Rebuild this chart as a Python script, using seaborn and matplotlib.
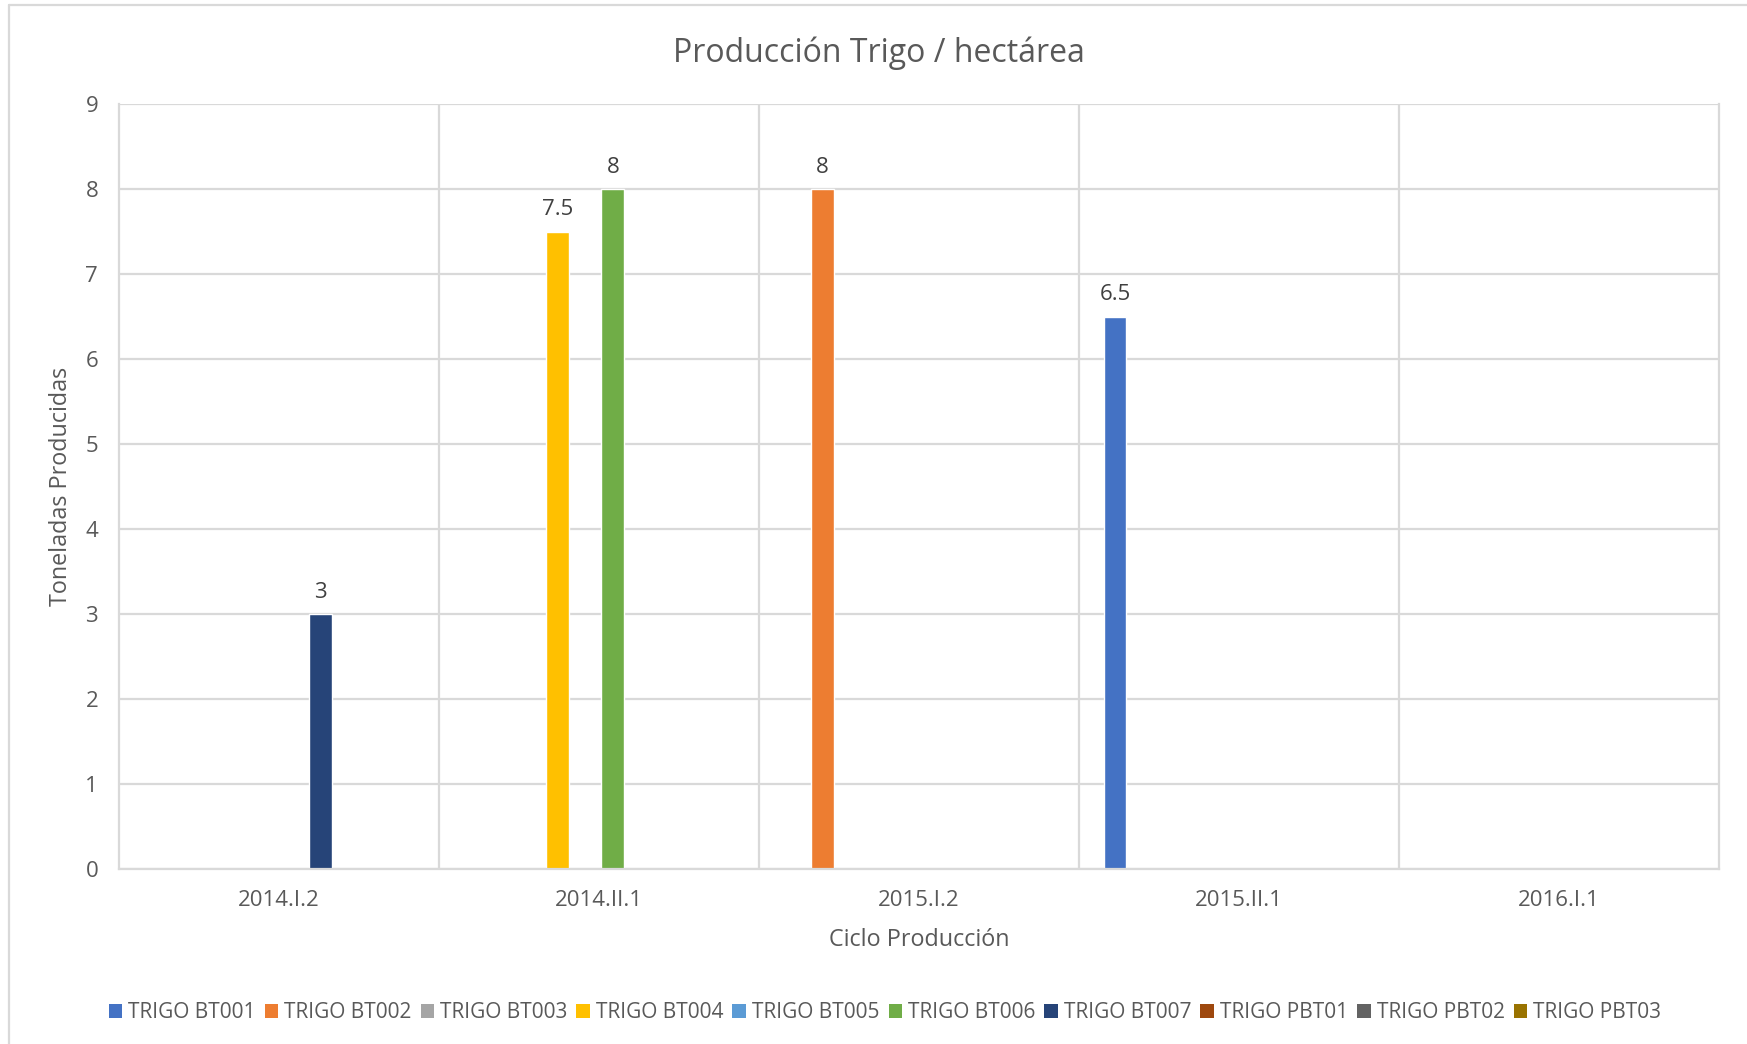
import numpy as np
import pandas as pd
import matplotlib
matplotlib.use("Agg")
import matplotlib.pyplot as plt
from matplotlib.lines import Line2D
from matplotlib.patches import Patch
import seaborn as sns

# Production cycles on the x axis
ciclos = ["2014.I.2", "2014.II.1", "2015.I.2", "2015.II.1", "2016.I.1"]

# Wheat varieties (series) and their colours
variedades = ["TRIGO BT001", "TRIGO BT002", "TRIGO BT003", "TRIGO BT004", "TRIGO BT005",
              "TRIGO BT006", "TRIGO BT007", "TRIGO PBT01", "TRIGO PBT02", "TRIGO PBT03"]
colores = ["#4472C4", "#ED7D31", "#A5A5A5", "#FFC000", "#5B9BD5",
           "#70AD47", "#264478", "#9E480E", "#636363", "#997300"]

# Recorded yields (tonnes per hectare)
reg_ciclo = ["2014.I.2", "2014.II.1", "2014.II.1", "2015.I.2", "2015.II.1"]
reg_variedad = ["TRIGO BT007", "TRIGO BT004", "TRIGO BT006", "TRIGO BT002", "TRIGO BT001"]
reg_toneladas = [3, 7.5, 8, 8, 6.5]

df = pd.DataFrame({"Ciclo": reg_ciclo, "Variedad": reg_variedad, "Toneladas": reg_toneladas})

sns.set_theme(style="white")
plt.rcParams["font.family"] = ["Open Sans", "DejaVu Sans"]

TXT = "#595959"
GRID = "#D9D9D9"
W, H = 1747, 1044
L, R, T, B = 119, 1719, 104, 869

fig = plt.figure(figsize=(W / 100, H / 100), dpi=100)
ax = fig.add_axes([L / W, 1 - B / H, (R - L) / W, (B - T) / H])

sns.barplot(data=df, x="Ciclo", y="Toneladas", hue="Variedad",
            order=ciclos, hue_order=variedades, palette=colores,
            width=0.86, gap=0.18, saturation=1, errorbar=None,
            legend=False, ax=ax)

# value labels above each drawn bar
for cont in ax.containers:
    labels = []
    for bar in cont:
        h = bar.get_height()
        labels.append(f"{h:g}" if np.isfinite(h) and h > 0 else "")
    ax.bar_label(cont, labels=labels, padding=8, fontsize=16, color="#404040")

ax.set_xlim(-0.5, len(ciclos) - 0.5)
ax.set_ylim(0, 9)
ax.set_yticks(range(0, 10))

# gridlines: horizontal at each unit, vertical between cycles
ax.set_xticks(np.arange(0.5, len(ciclos) - 0.5, 1), minor=True)
ax.grid(axis="y", which="major", color=GRID, linewidth=1.6)
ax.grid(axis="x", which="minor", color=GRID, linewidth=1.6)
ax.grid(axis="x", which="major", visible=False)
ax.set_axisbelow(True)
for s in ax.spines.values():
    s.set_color(GRID)
    s.set_linewidth(1.6)
ax.spines["top"].set_visible(False)

ax.tick_params(axis="both", which="both", length=0, labelsize=16, labelcolor=TXT)
ax.tick_params(axis="x", pad=15)
ax.tick_params(axis="y", pad=15)

ax.set_xlabel("Ciclo Producción", fontsize=16.8, color=TXT, va="center")
ax.set_ylabel("Toneladas Producidas", fontsize=16.8, color=TXT, va="center")
ax.xaxis.set_label_coords(0.5, (B - 940) / (B - T))
ax.yaxis.set_label_coords((61 - L) / (R - L), 0.5)

fig.text(879 / W, 1 - 53 / H, "Producción Trigo / hectárea",
         ha="center", va="center", fontsize=23, color=TXT)

handles = [Patch(facecolor=c, edgecolor="none", label=v) for v, c in zip(variedades, colores)]
fig.legend(handles=handles, loc="center", bbox_to_anchor=(885 / W, 1 - 1013 / H),
           ncol=len(variedades), frameon=False, fontsize=15, labelcolor=TXT,
           handlelength=0.65, handleheight=0.65, handletextpad=0.3, columnspacing=0.42)

# chart area border
fig.add_artist(Line2D([9 / W, 1], [1 - 5 / H, 1 - 5 / H], color=GRID, linewidth=1.6,
                      transform=fig.transFigure))
fig.add_artist(Line2D([9 / W, 9 / W], [0, 1 - 5 / H], color=GRID, linewidth=1.6,
                      transform=fig.transFigure))

fig.savefig("out.png", dpi=100, facecolor="white")
